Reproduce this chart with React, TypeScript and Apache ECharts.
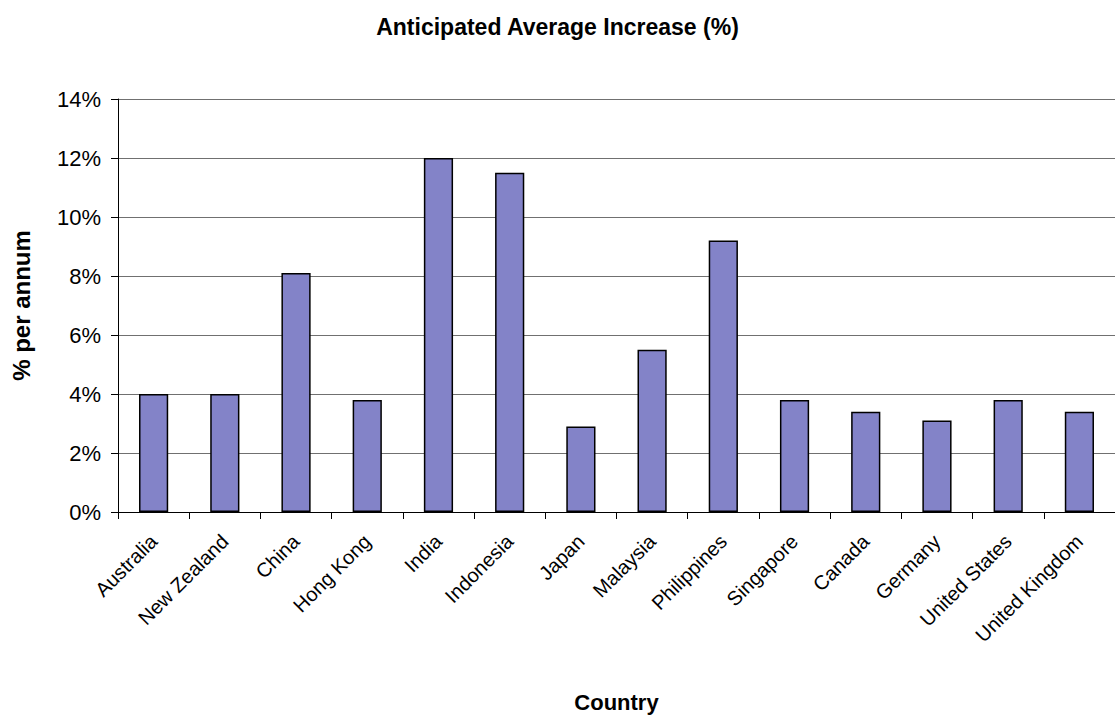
import React, { useEffect, useRef } from "react";
import * as echarts from "echarts";

const categories = [
  "Australia", "New Zealand", "China", "Hong Kong", "India", "Indonesia", "Japan",
  "Malaysia", "Philippines", "Singapore", "Canada", "Germany", "United States", "United Kingdom",
];
const values = [4.0, 4.0, 8.1, 3.8, 12.0, 11.5, 2.9, 5.5, 9.2, 3.8, 3.4, 3.1, 3.8, 3.4];
const yTicks = [0, 2, 4, 6, 8, 10, 12, 14];

const FONT = "'Liberation Sans', Arial, sans-serif";

export default function App() {
  const ref = useRef<HTMLDivElement>(null);
  useEffect(() => {
    if (!ref.current) return;
    const chart = echarts.init(ref.current, null, { renderer: "svg" });
    chart.setOption({
      animation: false,
      backgroundColor: "#ffffff",
      title: {
        text: "Anticipated Average Increase (%)",
        left: "center",
        top: 10,
        textStyle: { fontFamily: FONT, fontSize: 23, fontWeight: "bold", color: "#000" },
      },
      grid: { left: 118, right: -1, top: 99, bottom: 208, containLabel: false },
      xAxis: {
        type: "category",
        data: categories,
        name: "Country",
        nameLocation: "middle",
        nameGap: 179,
        nameTextStyle: { fontFamily: FONT, fontSize: 22, fontWeight: "bold", color: "#000" },
        axisLine: { lineStyle: { color: "#000", width: 1 } },
        axisTick: { show: true, alignWithLabel: false, length: 7, lineStyle: { color: "#000" } },
        axisLabel: {
          rotate: 45,
          interval: 0,
          margin: 26,
          fontFamily: FONT,
          fontSize: 20,
          color: "#000",
        },
      },
      yAxis: {
        type: "value",
        min: 0,
        max: 14,
        interval: 2,
        name: "% per annum",
        nameLocation: "middle",
        nameGap: 85,
        nameRotate: 90,
        nameTextStyle: { fontFamily: FONT, fontSize: 24, fontWeight: "bold", color: "#000" },
        axisLine: { show: true, lineStyle: { color: "#000", width: 1 } },
        axisTick: { show: true, length: 7, inside: false, lineStyle: { color: "#000" } },
        axisLabel: {
          fontFamily: FONT,
          fontSize: 22,
          color: "#000",
          margin: 17,
          formatter: (v: number) => (yTicks.includes(v) ? v + "%" : ""),
        },
        splitLine: { show: true, lineStyle: { color: "#707070", width: 1 } },
      },
      series: [
        {
          type: "bar",
          data: values,
          barWidth: "41%",
          itemStyle: { color: "#8383c8", borderColor: "#000", borderWidth: 1.5 },
        },
      ],
    });
    return () => chart.dispose();
  }, []);
  return <div ref={ref} style={{ width: 1115, height: 720, position: "absolute", left: 0, top: 0 }} />;
}
